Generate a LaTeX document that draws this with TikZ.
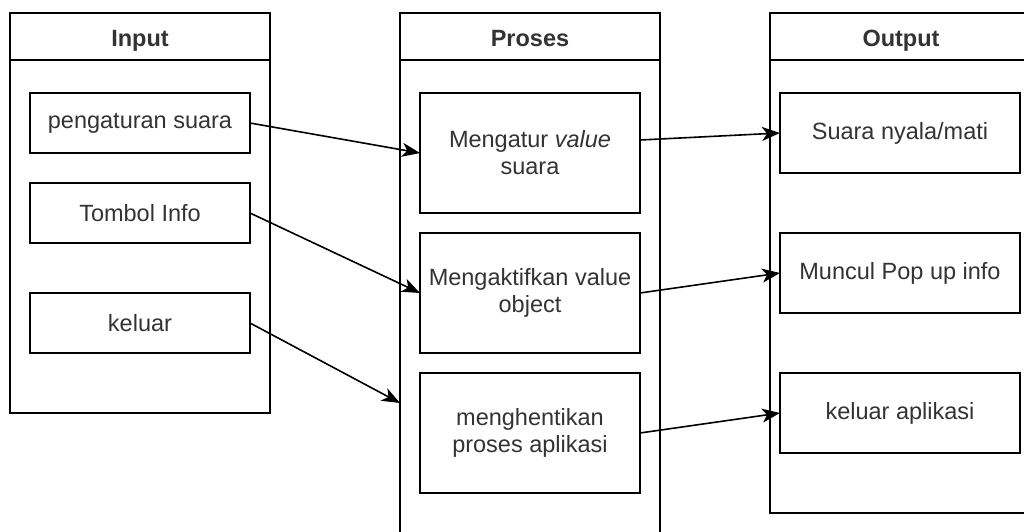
\documentclass[tikz,border=0pt]{standalone}
\usepackage{fontspec}
\setmainfont{Liberation Sans}
\usetikzlibrary{arrows.meta}
\begin{document}
\begin{tikzpicture}[x=1pt,y=-1pt,
  lane/.style={draw, line width=1.7pt, inner sep=0pt, outer sep=0pt},
  box/.style={draw, line width=1.7pt, inner sep=0pt, outer sep=0pt, align=center,
    font=\fontsize{23.5}{27}\selectfont, text=black!80},
  ibox/.style={box, minimum width=220pt, minimum height=60pt},
  pbox/.style={box, minimum width=220pt, minimum height=120pt},
  obox/.style={box, minimum width=240pt, minimum height=80pt},
  title/.style={font=\fontsize{23.5}{27}\selectfont\bfseries, text=black!80, inner sep=0pt, anchor=base},
  arr/.style={line width=1.6pt, -{Stealth[length=18pt,width=14pt,inset=5pt]}}]
\useasboundingbox (0,0) rectangle (1024,531);
\clip (0,0) rectangle (1024,531);
\fill[white] (0,0) rectangle (1024,531);
% lanes
\node[lane, minimum width=260pt, minimum height=400pt] (inp) at (140,213) {};
\node[lane, minimum width=260pt, minimum height=560pt] (pro) at (530,293) {};
\node[lane, minimum width=280pt, minimum height=500pt] (out) at (910,263) {};
\draw[line width=1.7pt] (10,60) -- (270,60);
\draw[line width=1.7pt] (400,60) -- (660,60);
\draw[line width=1.7pt] (770,60) -- (1050,60);
\node[title] (tin) at (140,46) {Input};
\node[title] (tpr) at (530,46) {Proses};
\node[title] (tou) at (901,46) {Output};
% input boxes
\node[ibox] (pa) at (140,123) {pengaturan suara};
\node[ibox] (ti) at (140,213) {Tombol Info};
\node[ibox] (kl) at (140,323) {keluar};
% process boxes
\node[pbox] (m1) at (530,153) {Mengatur \textit{value}\\suara};
\node[pbox] (m2) at (530,293) {Mengaktifkan value\\object};
\node[pbox] (m3) at (530,433) {menghentikan\\proses aplikasi};
% output boxes
\node[obox] (o1) at (900,133) {Suara nyala/mati};
\node[obox] (o2) at (900,273) {Muncul Pop up info};
\node[obox] (o3) at (900,413) {keluar aplikasi};
% connectors
\coordinate (kpt) at (400,403);
\draw[arr] (pa.east) -- (m1.west);
\draw[arr] (ti.east) -- (m2.west);
\draw[arr] (kl.east) -- (kpt);
\draw[arr] ([yshift=13pt]m1.east) -- (o1.west);
\draw[arr] (m2.east) -- (o2.west);
\draw[arr] (m3.east) -- (o3.west);
\end{tikzpicture}
\end{document}
